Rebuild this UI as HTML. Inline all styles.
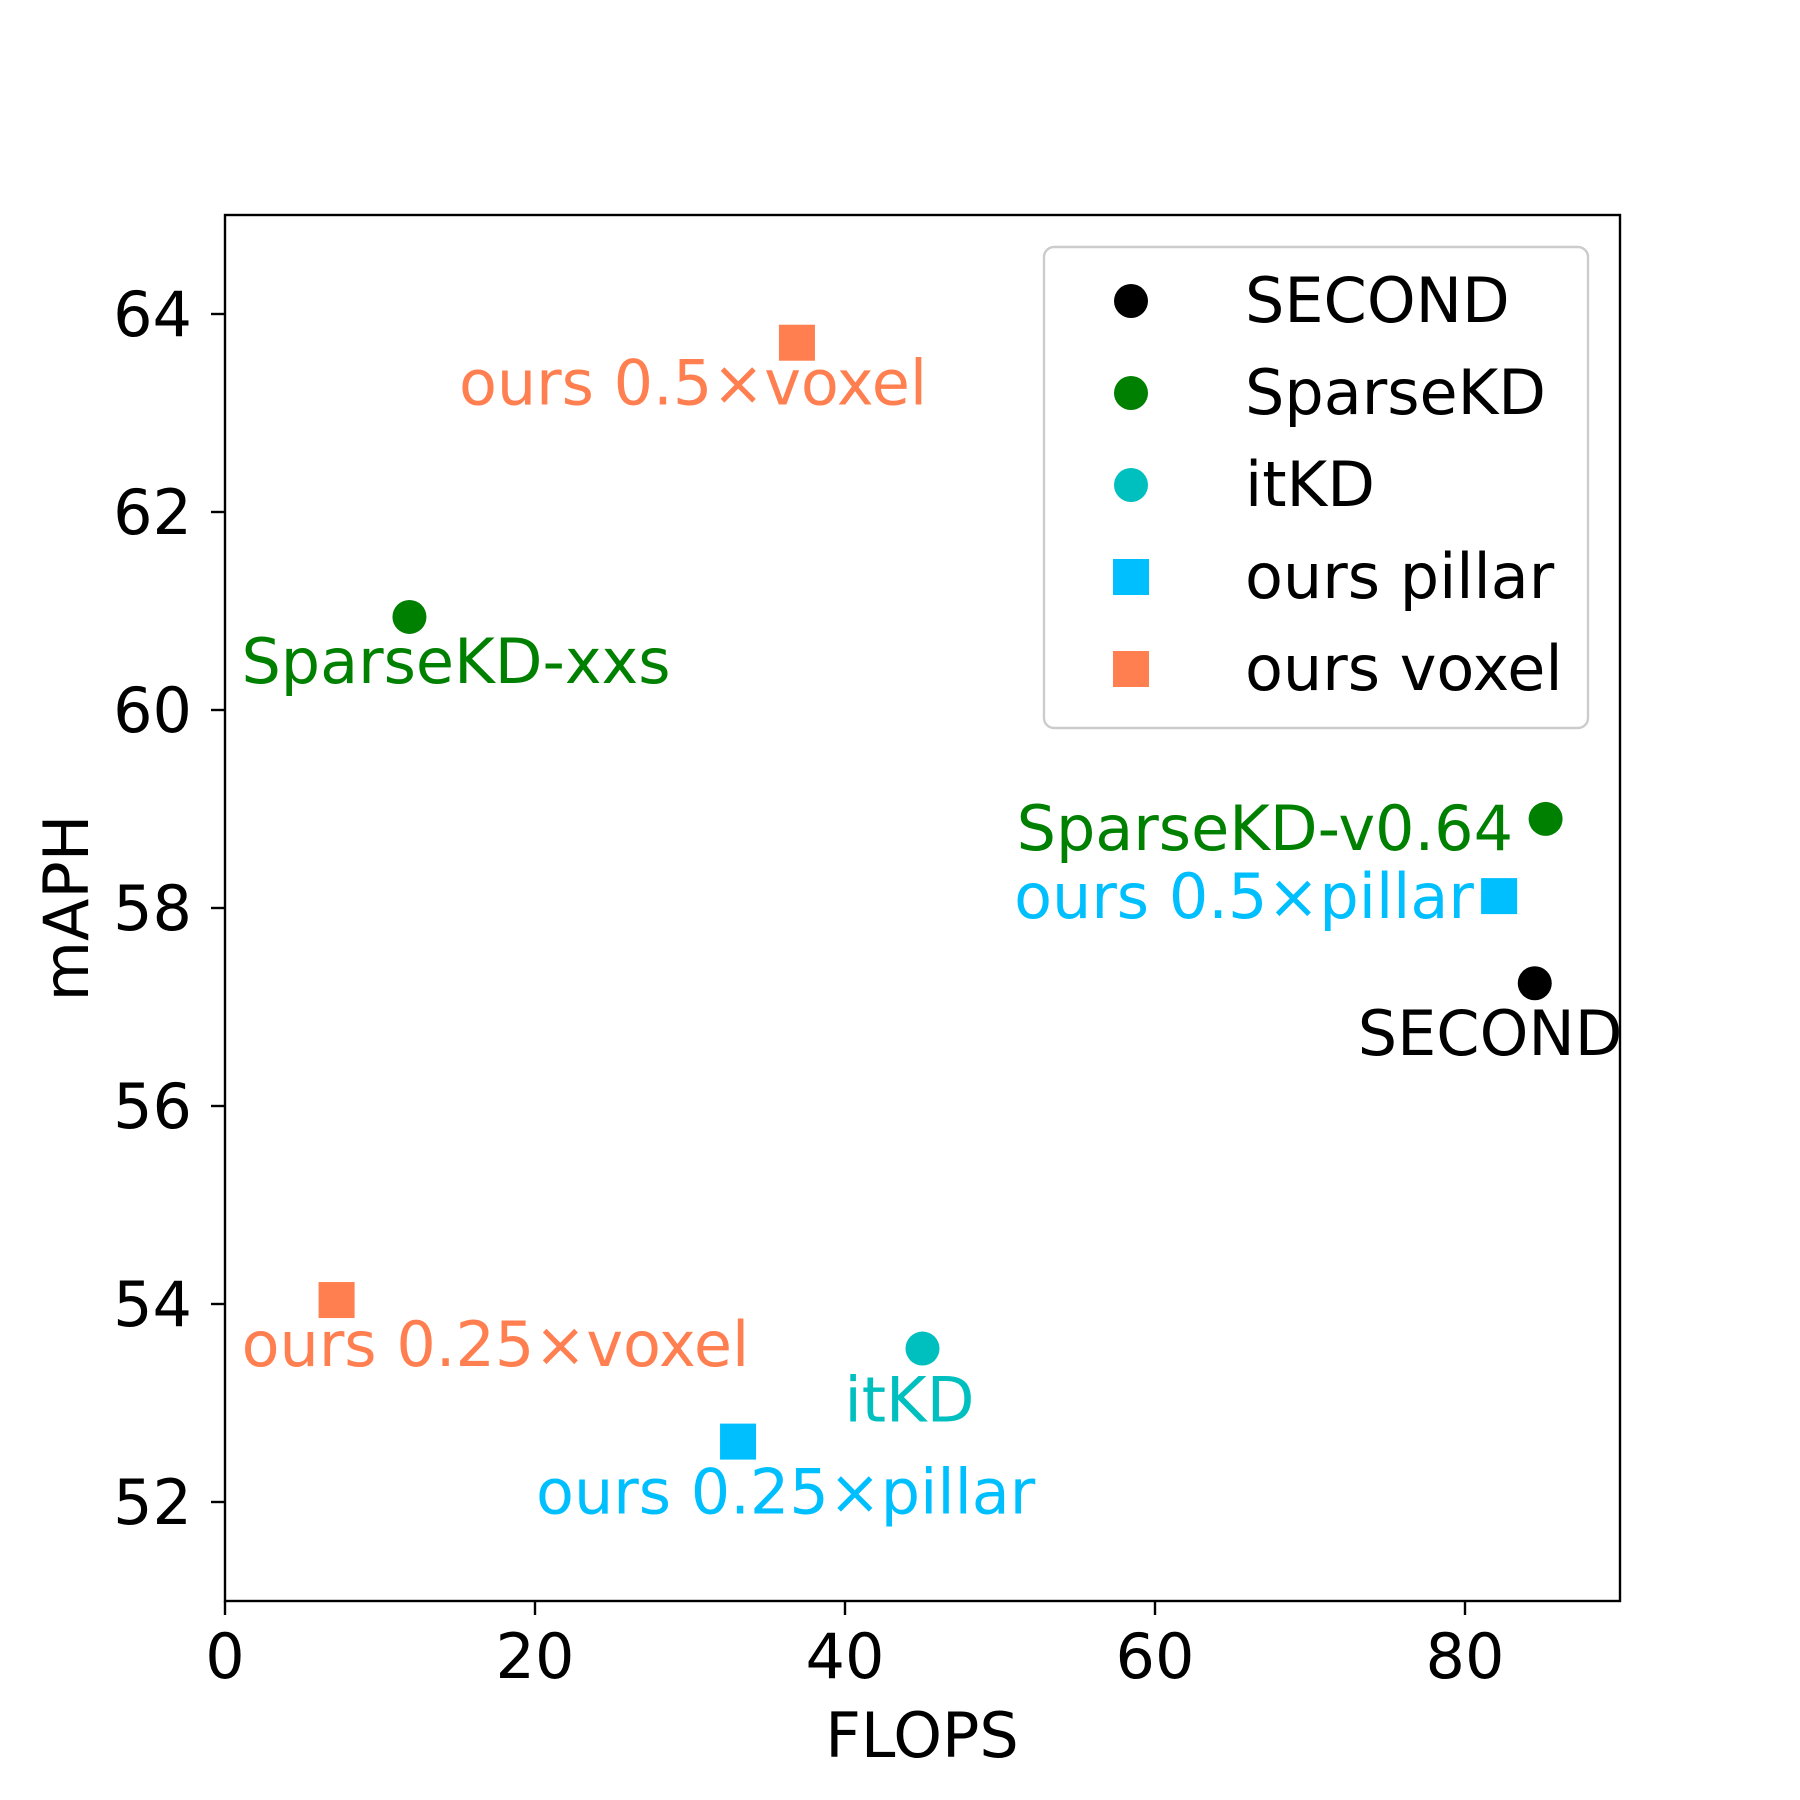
<!DOCTYPE html>
<html><head><meta charset="utf-8"><style>
html,body{margin:0;padding:0;background:#fff}
svg{display:block;font-family:"DejaVu Sans","Liberation Sans",sans-serif}
</style></head><body>
<svg id="chart" width="1800" height="1800" viewBox="0 0 1800 1800">
<rect width="1800" height="1800" fill="#fff"/>
<g id="plot"></g>
</svg>
<script>
const names=["SECOND","SparseKD-xxs","SparseKD-v0.64","itKD","ours 0.5×pillar","ours 0.25×pillar","ours 0.5×voxel","ours 0.25×voxel"];
const flops=[84.5,11.9,85.2,45.0,82.2,33.1,36.9,7.2];
const maph=[57.24,60.94,58.9,53.55,58.12,52.61,63.71,54.04];
const groups=["SECOND","SparseKD","SparseKD","itKD","ours pillar","ours pillar","ours voxel","ours voxel"];
const xTicks=[0,20,40,60,80];
const yTicks=[52,54,56,58,60,62,64];
const legendNames=["SECOND","SparseKD","itKD","ours pillar","ours voxel"];

const L=225,R=1620,T=215,B=1601,X0=0,X1=90,Y0=51,Y1=65;
const sx=v=>L+(v-X0)/(X1-X0)*(R-L);
const sy=v=>B-(v-Y0)/(Y1-Y0)*(B-T);
const style={"SECOND":["#000000","circle"],"SparseKD":["#008000","circle"],"itKD":["#00BFBF","circle"],"ours pillar":["#00BFFF","square"],"ours voxel":["#FF7F50","square"]};
const lblOff=[[-177,72],[-168,66],[-529,31],[-78,73],[-485,22],[-202,72],[-338,62],[-95,66]];
const g=document.getElementById('plot');
const NS="http://www.w3.org/2000/svg";
function mk(t,a){const e=document.createElementNS(NS,t);for(const k in a)e.setAttribute(k,a[k]);g.appendChild(e);return e;}
function marker(x,y,kind,color){
  if(kind==="circle") return mk('circle',{cx:x,cy:y,r:17,fill:color});
  return mk('rect',{x:x-18,y:y-18,width:36,height:36,fill:color});
}
const frame=mk('rect',{x:L,y:T,width:R-L,height:B-T,fill:"none",stroke:"#000","stroke-width":2.4});


xTicks.forEach(v=>{
  const x=sx(v);
  const t=mk('line',{x1:x,y1:B,x2:x,y2:B+14,stroke:"#000","stroke-width":2.4});
  
  
  const l=mk('text',{x:x,y:1678,"text-anchor":"middle","font-size":62,fill:"#000"});
  l.textContent=v;
  
  
});
yTicks.forEach(v=>{
  const y=sy(v);
  const t=mk('line',{x1:L-14,y1:y,x2:L,y2:y,stroke:"#000","stroke-width":2.4});
  
  
  const l=mk('text',{x:192,y:y+22,"text-anchor":"end","font-size":62,fill:"#000"});
  l.textContent=v;
  
  
});
const xl=mk('text',{x:922,y:1757,"text-anchor":"middle","font-size":62,fill:"#000"});
xl.textContent="FLOPS";


const yl=mk('text',{x:0,y:0,"text-anchor":"middle","font-size":62,fill:"#000",transform:"translate(88,908) rotate(-90)"});
yl.textContent="mAPH";


names.forEach((n,i)=>{
  const [c,k]=style[groups[i]];
  const x=sx(flops[i]),y=sy(maph[i]);
  const m=marker(x,y,k,c);
  
  
  const t=mk('text',{x:x+lblOff[i][0],y:y+lblOff[i][1],"font-size":62,fill:c});
  t.textContent=n;
  
  
});
const lb=mk('rect',{x:1044,y:247,width:544,height:481,rx:10,fill:"#fff","fill-opacity":0.8,stroke:"#ccc","stroke-width":2.4});


legendNames.forEach((n,i)=>{
  const y=301+i*92;
  const [c,k]=style[n];
  const m=marker(1131,y,k,c);
  
  
  const t=mk('text',{x:1245,y:y+21,"font-size":62,fill:"#000"});
  t.textContent=n;
  
  
});
</script>
</body></html>
